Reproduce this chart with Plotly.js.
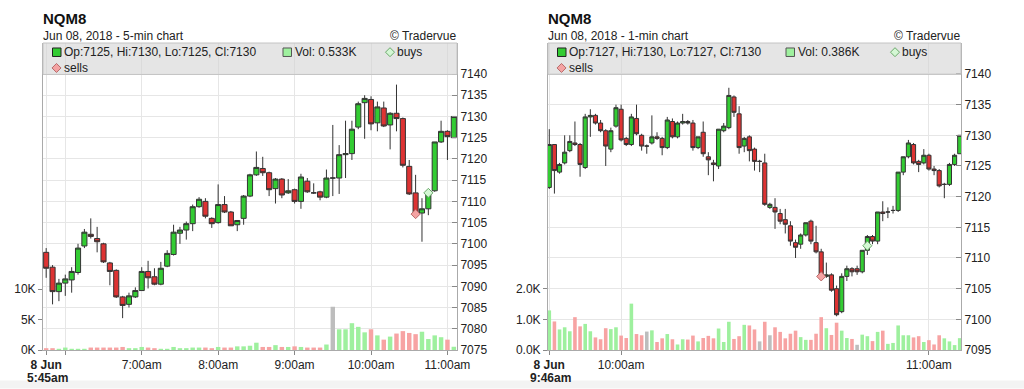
<!DOCTYPE html>
<html><head><meta charset="utf-8">
<script src="https://cdn.plot.ly/plotly-3.0.1.min.js"></script>
<style>html,body{margin:0;padding:0;background:#fff;}#chart{width:1024px;height:389px;}</style>
</head><body><div id="chart"></div>
<script>
const DAY = '2018-06-08 ';

// ---------- 5-min chart ----------
const t5 = ['05:45','05:50','05:55','06:00','06:05','06:10','06:15','06:20','06:25','06:30','06:35','06:40','06:45','06:50','06:55',
 '07:00','07:05','07:10','07:15','07:20','07:25','07:30','07:35','07:40','07:45','07:50','07:55',
 '08:00','08:05','08:10','08:15','08:20','08:25','08:30','08:35','08:40','08:45','08:50','08:55',
 '09:00','09:05','09:10','09:15','09:20','09:25','09:30','09:35','09:40','09:45','09:50','09:55',
 '10:00','10:05','10:10','10:15','10:20','10:25','10:30','10:35','10:40','10:45','10:50','10:55',
 '11:00','11:05'];
const o5 = [7098,7094.5,7088.75,7090.75,7091.5,7093.25,7099.5,7102.25,7101.25,7100,7095.5,7093.75,7087.5,7085.75,7087.5,7089,7093.5,7092.25,7090.5,7094.75,7097.5,7102.5,7103.25,7104.75,7108.75,7110,7106,7105,7109.25,7107.5,7104.5,7106,7111.25,7116.25,7117.75,7116.75,7113,7115.25,7112,7112.75,7110,7114.75,7112,7112.25,7111,7115.5,7115.5,7121,7121.25,7127.5,7133.25,7134,7128.5,7132,7128,7130.75,7129.5,7118.25,7112,7107.25,7108.25,7112.5,7124,7126.5,7125];
const h5 = [7099,7095,7091.75,7092.75,7094.5,7100,7103.5,7106,7104,7100.25,7095.75,7094,7087.75,7088.5,7089.75,7094.5,7096,7094.25,7095.75,7098.5,7104.5,7104,7105.25,7109.25,7111,7110.75,7106.25,7114,7111.25,7107.75,7105.5,7111.5,7116.5,7121.75,7120.5,7117,7115.5,7115.5,7115.25,7113,7116.5,7115.5,7114.25,7112.5,7117.5,7128,7123.25,7129,7129,7133.5,7135,7134.75,7133.5,7133.5,7131,7137.5,7129.75,7119.75,7116.25,7110.75,7112.25,7124,7129,7126.75,7130];
const l5 = [7092,7085.75,7086.5,7087.75,7088.5,7092.75,7099,7101.25,7098,7095.5,7090.25,7087.25,7082.5,7085,7087.25,7089,7089.5,7090.25,7090.25,7094.5,7097.25,7100,7101,7103,7108.5,7106,7103.75,7104.75,7107.25,7104.25,7103,7104.5,7111,7116,7116,7111.25,7109.5,7110.75,7111.75,7109.5,7108.25,7112,7111.75,7110.25,7110.75,7111.25,7111.75,7115.5,7119.75,7127,7124.75,7126.75,7126.5,7127.5,7122.25,7126.5,7118,7111.5,7106.75,7100.5,7106.75,7112.25,7123.75,7119.75,7125];
const c5 = [7094.25,7088.75,7090.75,7091.75,7093.5,7099,7102.75,7101.75,7100.5,7095.75,7093.5,7087.5,7085.5,7087.75,7089,7093.5,7092,7090.5,7094.25,7097.75,7102.75,7103.25,7104.75,7108.75,7110.5,7106.5,7104.75,7109.25,7107.5,7104.25,7105.5,7111.25,7116.25,7118,7116.75,7112.75,7115.25,7111.5,7112.5,7110,7115.75,7112.25,7112,7111,7115.5,7115.5,7121,7121.25,7127,7133,7134.25,7128.25,7132.25,7127.75,7130.75,7129.5,7118.5,7111.75,7107,7108.25,7112,7124,7126.5,7125.25,7130];
const v5 = [0.3,0.3,0.2,0.4,0.2,0.2,0.2,0.4,0.4,0.4, 0.4,0.4,0.5,0.3,0.3,0.5,0.4,0.3,0.2,0.2, 0.5,0.3,0.3,0.4,0.4,0.4,0.3,0.5,0.4,0.4, 0.6,0.6,0.7,1.2,0.5,0.5,0.8,0.5,0.5,0.6, 0.5,0.4,0.4,0.4,0.9,7.1,3.4,3.4,4.4,3.8, 2.9,3.4,2.4,1.7,2.2,2.7,3.1,2.8,2.6,3.0, 1.8,2.4,2.1,1.7,0.533];
const buys5T = ['10:45'], buys5P = [7112];
const sells5T = ['10:35'], sells5P = [7107];
const xTicks5 = ['05:45','06:00','07:00','08:00','09:00','10:00','11:00'];
const xText5 = ['<b>8 Jun</b>','','7:00am','8:00am','9:00am','10:00am','11:00am'];
const xFirst5 = '5:45am';
const pTicks5 = [7075,7080,7085,7090,7095,7100,7105,7110,7115,7120,7125,7130,7135,7140];
const vTicks5 = [0,5,10], vText5 = ['0K','5K','10K'];

// ---------- 1-min chart ----------
const t1 = ['09:46','09:47','09:48','09:49','09:50','09:51','09:52','09:53','09:54','09:55','09:56','09:57','09:58','09:59',
 '10:00','10:01','10:02','10:03','10:04','10:05','10:06','10:07','10:08','10:09','10:10','10:11','10:12','10:13','10:14','10:15',
 '10:16','10:17','10:18','10:19','10:20','10:21','10:22','10:23','10:24','10:25','10:26','10:27','10:28','10:29','10:30',
 '10:31','10:32','10:33','10:34','10:35','10:36','10:37','10:38','10:39','10:40','10:41','10:42','10:43','10:44','10:45',
 '10:46','10:47','10:48','10:49','10:50','10:51','10:52','10:53','10:54','10:55','10:56','10:57','10:58','10:59',
 '11:00','11:01','11:02','11:03','11:04','11:05','11:06'];
const o1 = [7121.5,7128.5,7124,7125.5,7127.5,7128.75,7128.5,7124.75,7133,7133.25, 7132,7130.75,7127.75,7131.5,7134.25,7129.5,7128.5,7132.75,7130,7128.25, 7128.75,7129.75,7129.5,7128,7132.25,7129.75,7132,7132.25,7132,7128, 7130.5,7126.5,7125.5,7125,7130.75,7131.25,7136.25,7133.5,7128.25,7129.75, 7127.75,7125.75,7125.5,7118.25,7118.25,7117.25,7116.25,7115.25,7112.5,7112.25, 7113.75,7116,7112.5,7111,7107,7107.25,7105,7101.25,7107,7108.25, 7108.25,7107.75,7111.25,7113.5,7112.75,7117.5,7117.5,7117.75,7117.75,7124, 7126.5,7128.5,7125.75,7125.5,7126.75,7124.5,7124.25,7122,7122,7125.25, 7127];
const h1 = [7131,7128.5,7125.5,7130,7130,7132.25,7128.75,7133.5,7134.25,7133.5, 7132.5,7131,7131.25,7135,7135,7129.75,7133.5,7135,7130.25,7128.5, 7133.25,7130.5,7129.75,7133,7132.75,7132.25,7133.5,7132.5,7132.5,7129.75, 7132.25,7127.25,7126,7131,7132,7137.75,7136.5,7134.75,7129.75,7130, 7128,7126,7127,7119,7119.75,7118,7118,7116,7113,7114, 7115.75,7116.25,7115.25,7111.5,7109.25,7107.5,7105.5,7107.5,7108.75,7108.5, 7108.75,7111.25,7113.75,7113.75,7117.5,7119.25,7118.25,7118.5,7124,7126.5, 7129.25,7128.75,7126,7127.75,7127,7125,7124.5,7122.25,7125.5,7127, 7130];
const l1 = [7121.25,7120.5,7123.75,7125.25,7127.25,7128.25,7123.25,7124.5,7129.75,7131.75, 7130.5,7125,7127.25,7131.25,7129,7128.25,7128.25,7130,7127.5,7127, 7128.5,7129.25,7126.75,7127.75,7129.5,7129.5,7131.75,7131.75,7127.5,7127.75, 7126.5,7123.5,7122.5,7124.5,7130.5,7131,7133,7127,7127.25,7125.75, 7124.25,7124,7118.5,7118,7114.75,7115.5,7114,7112,7110,7111.5, 7113.5,7112.25,7110.75,7107,7106.75,7104.5,7100.5,7101,7106.25,7107, 7107.25,7107.5,7110.5,7112.25,7112.25,7116,7116.5,7117.25,7117.5,7123.5, 7126.25,7125.25,7124,7125.25,7124.25,7123.5,7121.5,7119.75,7121.75,7125, 7127];
const c1 = [7128.5,7124.25,7125.25,7127.25,7129,7128.5,7125.25,7133,7133.25,7132, 7130.75,7128.25,7130.75,7134.5,7129.25,7128.5,7133,7130.25,7128.25,7128.25, 7129.75,7129.5,7128,7132.5,7129.75,7132,7132.25,7132,7128,7129.75, 7127,7126,7125.25,7131,7131.5,7136.5,7133.75,7128,7129.5,7127.5, 7125.75,7125.75,7118.75,7118.75,7117.5,7116,7115.5,7112.75,7111.75,7113.75, 7115.75,7112.75,7111,7107,7107.25,7104.75,7100.75,7107,7108.25,7107.75, 7107.75,7111.25,7113.5,7112.75,7117.5,7117.25,7117.5,7117.75,7124,7126.5, 7128.75,7125.5,7125.25,7126.75,7124.5,7124.25,7121.75,7122,7125.25,7126.75, 7130];
const v1 = [1.29,0.93,0.67,0.74,0.61,1.07,0.77,0.85,0.61,0.41, 0.35,0.71,0.68,0.74,0.47,0.39,1.51,0.52,0.48,0.6, 0.64,0.26,0.38,0.52,0.35,0.18,0.35,0.34,0.47,0.28, 0.39,0.46,0.38,0.7,0.26,0.92,0.36,0.45,0.82,0.8, 0.67,0.28,0.92,0.48,0.74,0.59,0.38,0.53,0.63,0.42, 0.33,0.33,0.53,1.07,0.71,0.49,0.89,0.63,0.39,0.36, 0.17,0.5,0.45,0.29,0.59,0.63,0.2,0.23,0.8,0.48, 0.48,0.41,0.45,0.26,0.32,0.18,0.48,0.38,0.28,0.16, 0.386];
const buys1T = ['10:48'], buys1P = [7112];
const sells1T = ['10:39'], sells1P = [7107];
const xTicks1 = ['09:46','10:00','11:00'];
const xText1 = ['<b>8 Jun</b>','10:00am','11:00am'];
const xFirst1 = '9:46am';
const pTicks1 = [7095,7100,7105,7110,7115,7120,7125,7130,7135,7140];
const vTicks1 = [0,1,2], vText1 = ['0.0K','1.0K','2.0K'];

// ---------- geometry / style ----------
const W = 1024, H = 389, TOP = 43, BOT = 38.5, PH = H - TOP - BOT;
const px = x => x / W;
const py = y => (H - BOT - y) / PH;
const FONT = 'Liberation Sans, Arial, Helvetica, sans-serif';
const GREEN = '#33cc33', RED = '#dd3333', EDGE = '#333333';
const VGREEN = '#9ef09e', VRED = '#f7a3a3', VGRAY = '#bdbdbd';
const GRID = '#e6e6e6', AXIS = '#aaaaaa', TICK = '#888888';

const withDay = a => a.map(s => DAY + s);
function volColors(o, c) {
  return c.map((v, i) => {
    const p = i ? c[i - 1] : o[0];
    return v > p ? VGREEN : (v < p ? VRED : VGRAY);
  });
}

const traces = [], shapes = [], annotations = [];
const layout = {
  width: W, height: H, margin: {l: 0, r: 0, t: TOP, b: BOT, pad: 0},
  paper_bgcolor: '#ffffff', plot_bgcolor: '#ffffff', showlegend: false,
  hovermode: false, bargap: 0.3, boxgap: 0.2, boxgroupgap: 0,
  font: {family: FONT, size: 12, color: '#222'}
};

function panel(p) {
  const xa = p.xid, yv = p.yvid, yp = p.ypid;
  const xk = xa === 'x' ? 'xaxis' : 'xaxis' + xa.slice(1);
  const yvk = 'yaxis' + (yv === 'y' ? '' : yv.slice(1));
  const ypk = 'yaxis' + yp.slice(1);
  const T = withDay(p.t);
  traces.push({type: 'bar', x: T, y: p.v, xaxis: xa, yaxis: yv,
    marker: {color: volColors(p.o, p.c), line: {width: 0}}, hoverinfo: 'skip'});
  traces.push({type: 'candlestick', x: T, open: p.o, high: p.h, low: p.l, close: p.c,
    xaxis: xa, yaxis: yp, whiskerwidth: 0, hoverinfo: 'skip',
    increasing: {line: {color: EDGE, width: 1}, fillcolor: GREEN},
    decreasing: {line: {color: EDGE, width: 1}, fillcolor: RED}});
  traces.push({type: 'scatter', mode: 'markers', x: withDay(p.sellT), y: p.sellP, xaxis: xa, yaxis: yp,
    marker: {symbol: 'diamond', size: 7, color: '#f4a3a3', line: {color: '#b86a6a', width: 1}}, hoverinfo: 'skip'});
  traces.push({type: 'scatter', mode: 'markers', x: withDay(p.buyT), y: p.buyP, xaxis: xa, yaxis: yp,
    marker: {symbol: 'diamond', size: 7, color: '#d4f7d4', line: {color: '#6aa86a', width: 1}}, hoverinfo: 'skip'});

  layout[xk] = {domain: [px(p.x0), px(p.x1)], type: 'date', anchor: yv, range: [DAY + p.r0, DAY + p.r1],
    tickmode: 'array', tickvals: withDay(p.xTicks), ticktext: p.xText, tickangle: 0,
    showgrid: true, gridcolor: GRID, gridwidth: 1, ticks: 'outside', ticklen: 4, tickcolor: TICK,
    showline: true, linecolor: AXIS, linewidth: 1, zeroline: false, fixedrange: true,
    rangeslider: {visible: false}, tickfont: {size: 12, color: '#222', family: FONT}};
  layout[yvk] = {domain: [0, 1], anchor: xa, side: 'left', range: [0, p.vmax],
    tickmode: 'array', tickvals: p.vTicks, ticktext: p.vText, showgrid: false, zeroline: false,
    ticks: 'outside', ticklen: 4, tickcolor: TICK, showline: true, linecolor: AXIS, fixedrange: true,
    tickfont: {size: 12, color: '#222', family: FONT}};
  layout[ypk] = {overlaying: yv, anchor: xa, side: 'right', range: [p.pmin, p.pmax],
    tickmode: 'array', tickvals: p.pTicks, showgrid: true, gridcolor: GRID, zeroline: false,
    ticks: 'inside', ticklen: 5, tickcolor: TICK, showline: true, linecolor: AXIS, fixedrange: true,
    tickfont: {size: 12, color: '#222', family: FONT}};

  // header texts
  const txt = (x, y, text, opt) => annotations.push(Object.assign({xref: 'paper', yref: 'paper', x: px(x), y: py(y),
    text: text, showarrow: false, xanchor: 'left', yanchor: 'middle', font: {family: FONT, size: 12, color: '#222'}}, opt || {}));
  txt(p.x0 - 2, 18.5, '<b>NQM8</b>', {font: {family: FONT, size: 15, color: '#111'}});
  txt(p.x0 - 2, 35.5, p.sub);
  txt(p.x1 + 2, 35.5, '© Tradervue', {xanchor: 'right'});
  // second line of first x tick label
  txt(p.firstX, 378.5, '<b>' + p.xFirst + '</b>', {xanchor: 'center', borderpad: 0, borderwidth: 0});

  // legend box
  shapes.push({type: 'rect', xref: 'paper', yref: 'paper', x0: px(p.x0), x1: px(p.x1), y0: py(74.5), y1: py(43),
    fillcolor: 'rgba(212,212,212,0.6)', line: {color: '#c4c4c4', width: 1}, layer: 'above'});
  const n = p.o.length - 1;
  const sq = (x, fill, edge) => shapes.push({type: 'rect', xref: 'paper', yref: 'paper',
    x0: px(x), x1: px(x + 8.5), y0: py(56.5), y1: py(48), fillcolor: fill, line: {color: edge, width: 1}, layer: 'above'});
  const dia = (x, y, fill, edge) => shapes.push({type: 'path', xref: 'paper', yref: 'paper',
    xsizemode: 'pixel', ysizemode: 'pixel', xanchor: px(x), yanchor: py(y),
    path: 'M -4.5 0 L 0 4.5 L 4.5 0 L 0 -4.5 Z', fillcolor: fill, line: {color: edge, width: 1}, layer: 'above'});
  sq(p.x0 + 9.5, GREEN, '#222');
  txt(p.x0 + 19, 52.2, 'Op:' + p.o[n] + ', Hi:' + p.h[n] + ', Lo:' + p.l[n] + ', Cl:' + p.c[n]);
  sq(p.x0 + p.volDx, VGREEN, '#555');
  txt(p.x0 + p.volDx + 9.5, 52.2, 'Vol: ' + p.v[n].toFixed(3) + 'K');
  dia(p.x0 + p.buyDx, 52.2, '#d4f7d4', '#6aa86a');
  txt(p.x0 + p.buyDx + 5, 52.2, 'buys');
  dia(p.x0 + 13.5, 68, '#f4a3a3', '#b86a6a');
  txt(p.x0 + 19, 68, 'sells');
}

panel({xid: 'x', yvid: 'y', ypid: 'y2', t: t5, o: o5, h: h5, l: l5, c: c5, v: v5,
  buyT: buys5T, buyP: buys5P, sellT: sells5T, sellP: sells5P,
  xTicks: xTicks5, xText: xText5, xFirst: xFirst5, firstX: 47,
  pTicks: pTicks5, vTicks: vTicks5, vText: vText5,
  x0: 43, x1: 457, r0: '05:42:30', r1: '11:07:30', pmin: 7075, pmax: 7147.3, vmax: 50.4,
  sub: 'Jun 08, 2018 - 5-min chart', volDx: 240, buyDx: 347});
panel({xid: 'x2', yvid: 'y3', ypid: 'y4', t: t1, o: o1, h: h1, l: l1, c: c1, v: v1,
  buyT: buys1T, buyP: buys1P, sellT: sells1T, sellP: sells1P,
  xTicks: xTicks1, xText: xText1, xFirst: xFirst1, firstX: 550,
  pTicks: pTicks1, vTicks: vTicks1, vText: vText1,
  x0: 548, x1: 961, r0: '09:45:45', r1: '11:06:15', pmin: 7095, pmax: 7145.05, vmax: 10.0,
  sub: 'Jun 08, 2018 - 1-min chart', volDx: 238, buyDx: 347});

// bottom page strip
shapes.push({type: 'rect', xref: 'paper', yref: 'paper', x0: 0, x1: 1, y0: py(389), y1: py(381),
  fillcolor: '#f3f3f3', line: {width: 0}, layer: 'below'});

layout.shapes = shapes;
layout.annotations = annotations;
Plotly.newPlot('chart', traces, layout, {staticPlot: true, displayModeBar: false});
</script></body></html>
